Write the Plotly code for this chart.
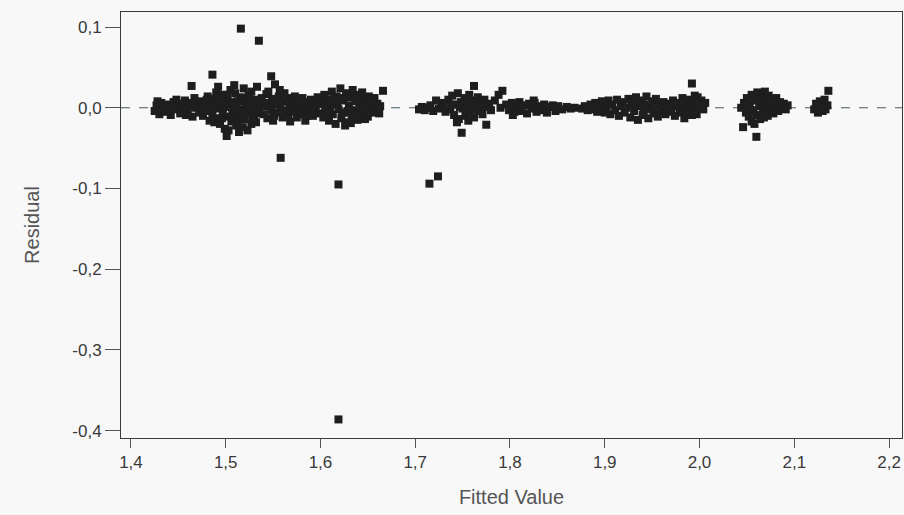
import plotly.graph_objects as go

# Fitted values / residuals by cluster
fit_a = [1.425,1.427,1.43,1.432,1.435,1.437,1.44,1.442,1.445,1.447,1.45,1.452,1.455,1.457,1.46,1.462,1.465,1.467,1.47,1.472,1.428,1.438,1.448,1.458,1.468,1.464,1.433,1.443,1.453,1.463]
res_a = [-0.004,0.003,-0.008,0.006,0.001,-0.005,0.004,-0.009,0.007,-0.002,0.005,-0.007,0.002,0.009,-0.004,0.006,-0.011,0.012,0.003,-0.006,0.008,-0.001,0.010,-0.009,0.000,0.027,-0.002,0.001,-0.003,0.002]

fit_b = [1.475,1.476,1.478,1.48,1.481,1.483,1.484,1.486,1.486,1.488,1.489,1.49,1.491,1.493,1.494,1.495,1.497,1.498,1.499,1.5,1.501,1.502,1.503,1.505,1.506,1.507,1.508,1.51,1.511,1.512,1.513,1.515,1.516,1.516,1.518,1.519,1.52,1.521,1.523,1.524,1.525,1.527,1.528,1.529,1.531,1.532,1.533,1.535,1.535,1.536,1.492,1.503,1.509,1.514,1.497,1.522,1.527,1.48,1.488,1.496,1.504,1.512,1.52,1.53,1.501,1.517,1.477,1.485,1.49,1.494,1.499,1.507,1.511,1.519,1.525,1.533]
res_b = [0.008,-0.010,0.002,-0.004,0.014,-0.016,0.006,0.041,-0.008,0.011,-0.001,0.019,-0.013,0.004,-0.020,0.009,-0.006,0.016,-0.026,0.001,-0.035,0.012,-0.011,0.022,-0.017,0.005,-0.003,0.018,-0.022,0.008,-0.009,0.013,0.098,-0.002,-0.024,0.024,-0.014,0.006,-0.028,0.015,-0.005,0.020,-0.012,0.003,0.010,-0.018,0.026,0.083,-0.007,0.004,0.026,-0.028,0.028,-0.030,0.002,0.000,-0.020,0.010,-0.018,-0.013,0.007,-0.015,0.012,-0.010,0.016,0.008,-0.003,0.001,0.006,0.012,0.008,-0.008,0.003,-0.006,0.011,-0.002]

fit_c = [1.538,1.54,1.541,1.543,1.544,1.546,1.548,1.548,1.549,1.551,1.552,1.553,1.555,1.556,1.558,1.558,1.56,1.561,1.563,1.565,1.566,1.568,1.569,1.571,1.572,1.574,1.576,1.577,1.579,1.58,1.582,1.584,1.585,1.587,1.589,1.59,1.592,1.594,1.595,1.597,1.599,1.545,1.562,1.575,1.55,1.557,1.567,1.581,1.591,1.542,1.554,1.564,1.573,1.586,1.596]
res_c = [0.012,-0.008,0.002,0.017,-0.013,0.006,0.039,-0.003,0.011,-0.010,0.029,0.004,-0.006,0.014,-0.062,0.000,-0.012,0.008,-0.004,0.012,-0.009,-0.017,0.003,0.009,-0.005,0.006,-0.002,0.011,-0.008,0.004,-0.003,-0.016,0.007,0.001,-0.006,0.010,-0.010,0.003,-0.002,0.013,-0.007,0.020,0.018,-0.012,-0.016,0.022,0.000,0.012,-0.004,0.006,0.009,-0.008,0.014,-0.010,0.005]

fit_d = [1.601,1.603,1.604,1.606,1.607,1.609,1.61,1.612,1.613,1.615,1.616,1.618,1.619,1.619,1.619,1.621,1.622,1.624,1.625,1.627,1.628,1.63,1.631,1.633,1.634,1.636,1.637,1.639,1.64,1.642,1.643,1.645,1.646,1.648,1.65,1.651,1.653,1.655,1.656,1.658,1.66,1.662,1.663,1.666,1.626,1.611,1.632,1.605,1.617,1.629,1.641,1.647,1.654,1.602,1.608,1.614,1.62,1.623,1.635,1.638,1.644,1.652,1.657,1.661]
res_d = [0.005,-0.012,0.016,-0.004,0.010,-0.016,0.001,0.020,-0.008,0.013,-0.020,0.006,-0.095,-0.386,-0.002,0.024,-0.013,0.009,-0.006,0.018,-0.018,0.003,0.013,-0.010,0.022,-0.003,0.008,-0.015,0.016,0.000,-0.008,0.011,-0.004,0.006,-0.011,0.014,0.002,-0.006,0.009,-0.002,0.005,-0.007,0.002,0.021,-0.022,0.010,-0.019,0.002,0.014,-0.004,0.007,-0.014,0.010,0.011,-0.007,0.004,0.012,-0.006,0.015,-0.009,0.019,-0.002,0.012,0.000]

fit_e = [1.704,1.707,1.71,1.713,1.715,1.716,1.719,1.722,1.724,1.725,1.728]
res_e = [-0.002,0.001,-0.003,0.000,-0.094,0.003,-0.004,0.009,-0.085,-0.001,0.004]

fit_f = [1.73,1.732,1.735,1.737,1.739,1.741,1.743,1.745,1.746,1.748,1.749,1.75,1.752,1.753,1.755,1.757,1.758,1.76,1.762,1.762,1.764,1.766,1.767,1.769,1.771,1.773,1.775,1.775,1.778,1.78,1.784,1.788,1.790,1.792,1.744,1.756,1.751,1.759,1.765,1.738,1.747,1.754,1.761,1.77]
res_f = [0.006,-0.005,0.010,-0.002,0.015,-0.009,0.004,0.018,-0.014,0.007,-0.031,-0.001,0.012,-0.010,0.004,0.016,-0.006,0.009,0.027,-0.012,0.002,0.013,-0.004,0.007,-0.008,0.010,-0.021,0.001,0.005,-0.003,0.009,0.016,0.000,0.021,-0.018,-0.016,0.006,-0.002,0.008,0.004,0.001,-0.005,0.003,0.000]

fit_g = [1.796,1.799,1.802,1.805,1.807,1.81,1.812,1.815,1.818,1.82,1.823,1.826,1.828,1.831,1.834,1.836,1.839,1.842,1.845,1.848,1.851,1.855,1.86,1.864,1.868,1.803,1.825]
res_g = [0.004,-0.003,0.006,-0.005,0.002,0.007,-0.004,0.003,-0.007,0.005,-0.001,0.006,-0.005,0.002,-0.003,0.004,-0.006,0.001,0.003,-0.004,0.002,-0.002,0.001,-0.001,0.000,-0.009,0.009]

fit_h = [1.876,1.879,1.882,1.885,1.887,1.89,1.892,1.895,1.897,1.9,1.902,1.904,1.906,1.908,1.911,1.913,1.915,1.917,1.919,1.921,1.923,1.925,1.927,1.929,1.931,1.933,1.935,1.937,1.939,1.94,1.942,1.944,1.946,1.948,1.95,1.952,1.954,1.956,1.958,1.96,1.962,1.964,1.966,1.968,1.97,1.972,1.974,1.976,1.978,1.98,1.982,1.984,1.986,1.988,1.99,1.992,1.992,1.994,1.996,1.998,2.0,2.002,2.004,2.006,1.945,1.957,1.983,1.995,1.928,1.934,1.941,1.951,1.963,1.971,1.979,1.987,1.997,2.003]
res_h = [-0.001,0.002,-0.003,0.004,-0.002,0.006,-0.005,0.003,0.008,-0.006,0.001,0.009,-0.008,0.004,-0.003,0.010,-0.010,0.002,0.007,-0.006,0.000,0.011,-0.012,0.005,-0.004,0.013,-0.015,0.002,0.009,-0.009,0.004,0.014,-0.013,0.000,0.008,-0.007,0.011,-0.011,0.003,-0.003,0.007,-0.008,0.001,0.005,-0.005,0.009,-0.010,0.002,0.006,-0.006,0.012,-0.013,0.004,-0.002,0.010,0.030,-0.009,0.005,-0.004,0.013,0.001,0.009,-0.002,0.006,-0.002,0.004,0.000,0.015,0.006,0.004,-0.004,-0.002,0.003,0.002,-0.001,-0.007,-0.008,0.003]

fit_i = [2.044,2.046,2.047,2.049,2.05,2.052,2.053,2.055,2.055,2.057,2.058,2.06,2.06,2.061,2.063,2.064,2.066,2.067,2.069,2.07,2.072,2.073,2.075,2.076,2.078,2.079,2.081,2.083,2.085,2.087,2.089,2.091,2.093,2.058,2.065,2.071,2.051,2.062,2.068,2.074,2.08]
res_i = [0.000,-0.024,0.006,-0.006,0.012,-0.011,0.003,-0.017,0.016,-0.003,0.009,-0.036,-0.009,0.019,0.002,-0.014,0.013,-0.005,0.020,0.006,-0.010,0.015,-0.002,0.010,-0.007,0.004,0.012,-0.004,0.007,0.000,0.005,-0.002,0.003,-0.020,0.008,0.001,0.003,0.010,-0.012,0.005,0.000]

fit_j = [2.121,2.123,2.125,2.127,2.128,2.13,2.131,2.133,2.135,2.136,2.126,2.132]
res_j = [-0.002,0.005,-0.006,0.008,0.000,-0.004,0.006,-0.002,0.003,0.021,0.002,0.010]

x_ticks = [1.4, 1.5, 1.6, 1.7, 1.8, 1.9, 2.0, 2.1, 2.2]
x_tick_labels = ["1,4", "1,5", "1,6", "1,7", "1,8", "1,9", "2,0", "2,1", "2,2"]
y_ticks = [0.1, 0.0, -0.1, -0.2, -0.3, -0.4]
y_tick_labels = ["0,1", "0,0", "-0,1", "-0,2", "-0,3", "-0,4"]

fitted = fit_a + fit_b + fit_c + fit_d + fit_e + fit_f + fit_g + fit_h + fit_i + fit_j
resid = res_a + res_b + res_c + res_d + res_e + res_f + res_g + res_h + res_i + res_j

BG = "#f8f8f8"
AX = "#3a3a3a"

fig = go.Figure()
fig.add_trace(go.Scatter(
    x=fitted, y=resid, mode="markers",
    marker=dict(symbol="square", size=8, color="#1e1e1e", line=dict(width=0)),
    hoverinfo="x+y", showlegend=False,
))

fig.add_shape(type="line", xref="paper", yref="y", x0=0, x1=1, y0=0, y1=0,
              line=dict(color="#4b5862", width=1, dash="dash"), layer="below")

fig.update_layout(
    width=904, height=515,
    margin=dict(l=121, r=2, t=12, b=77),
    paper_bgcolor=BG, plot_bgcolor=BG,
    font=dict(family="Liberation Sans, Arial, sans-serif", color="#444444"),
    showlegend=False,
)
fig.update_xaxes(
    range=[1.3895, 2.2137], tickvals=x_ticks, ticktext=x_tick_labels,
    ticks="outside", ticklen=9, tickwidth=1, tickcolor="#555555",
    showline=True, linecolor=AX, linewidth=1, mirror=True,
    showgrid=False, zeroline=False,
    tickfont=dict(size=17, color="#3a3a3a"),
    title=dict(text="Fitted Value", font=dict(size=20, color="#555555"), standoff=18),
)
fig.update_yaxes(
    range=[-0.409, 0.1186], tickvals=y_ticks, ticktext=y_tick_labels,
    ticks="outside", ticklen=15, tickwidth=1, tickcolor="#555555",
    showline=True, linecolor=AX, linewidth=1, mirror=True,
    showgrid=False, zeroline=False,
    tickfont=dict(size=17, color="#3a3a3a"),
    title=dict(text="Residual", font=dict(size=20, color="#555555"), standoff=27),
)

fig.write_html("out.html", config={"displayModeBar": False},
               post_script="document.body.style.margin='0';document.body.style.overflow='hidden';")
